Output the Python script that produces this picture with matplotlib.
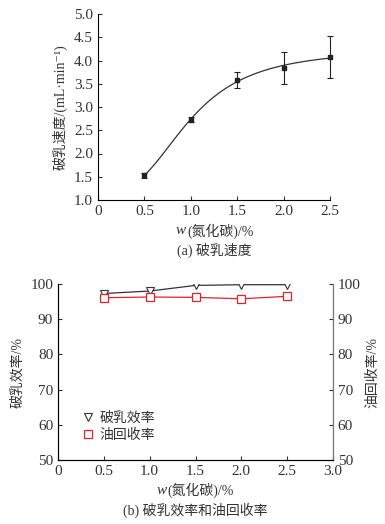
import numpy as np
import matplotlib
matplotlib.use("Agg")
import matplotlib.pyplot as plt
from matplotlib.ticker import FormatStrFormatter

plt.rcParams['font.family'] = ['Liberation Serif', 'Noto Sans CJK SC', 'DejaVu Serif']
plt.rcParams['axes.unicode_minus'] = False

# (a) demulsification speed
dose = [0.5, 1.0, 1.5, 2.0, 2.5]
speed = [1.53, 2.73, 3.58, 3.84, 4.08]
speed_err = [0.05, 0.05, 0.17, 0.35, 0.45]

# (b) efficiencies
eff = [97.3, 98.0, 99.6, 99.8, 99.8]
oil = [96.1, 96.3, 96.2, 95.8, 96.5]

TXT = '#333333'
NUM = 11
CJK = 10

fig = plt.figure(figsize=(3.85, 5.24), dpi=100)


def wlabel(xc, yc):
    # "w(氮化碳)/%" with italic w, centred at figure pixel (xc, yc)
    y = 1 - yc / 524
    t1 = fig.text(0, y, 'w', style='italic', fontsize=NUM, color=TXT, va='center')
    t2 = fig.text(0, y, '(氮化碳)/%', fontsize=CJK, color=TXT, va='center')
    r = fig.canvas.get_renderer()
    w1 = t1.get_window_extent(r).width
    w2 = t2.get_window_extent(r).width
    x0 = xc - (w1 + w2) / 2
    t1.set_x(x0 / 385)
    t2.set_x((x0 + w1 + 1) / 385)


def logistic_fit(x, y):
    # Origin-style logistic y = A2 + (A1-A2)/(1+(x/x0)^p); x0, p by grid search
    x, y = np.asarray(x), np.asarray(y)
    best = None
    for x0 in np.linspace(0.5, 2.5, 101):
        for p in np.linspace(1.0, 6.0, 101):
            s = 1 / (1 + (x / x0) ** p)
            M = np.column_stack([s, 1 - s])
            c, *_ = np.linalg.lstsq(M, y, rcond=None)
            r = np.sum((M @ c - y) ** 2)
            if best is None or r < best[0]:
                best = (r, x0, p, c)
    _, x0, p, (a1, a2) = best
    return lambda t: a2 + (a1 - a2) / (1 + (t / x0) ** p)


# ---- top panel
ax1 = fig.add_axes([98/385, 1-200/524, 232/385, 186/524])
ax1.errorbar(dose, speed, yerr=speed_err, fmt='s', color='#222222', ms=3.5,
             elinewidth=0.8, capsize=2.5, capthick=0.8, clip_on=False, zorder=3)
f = logistic_fit(dose, speed)
xs = np.linspace(dose[0], dose[-1], 100)
ax1.plot(xs, f(xs), color='#333333', lw=0.9)
ax1.set_xlim(0, 2.5)
ax1.set_ylim(1.0, 5.0)
ax1.set_xticks([0, 0.5, 1.0, 1.5, 2.0, 2.5])
ax1.set_xticklabels(['0', '0.5', '1.0', '1.5', '2.0', '2.5'])
ax1.set_yticks(np.arange(1.0, 5.01, 0.5))
ax1.yaxis.set_major_formatter(FormatStrFormatter('%.1f'))
for s in ['top', 'right']:
    ax1.spines[s].set_visible(False)
ax1.tick_params(direction='in', length=3, labelsize=NUM, colors=TXT)
ax1.set_ylabel('破乳速度/(mL·min⁻¹)', fontsize=CJK, color=TXT, labelpad=5)
wlabel(214, 231)
fig.text(214/385, 1 - 250/524, '(a) 破乳速度', ha='center', va='center',
         fontsize=CJK, color=TXT)

# ---- bottom panel
ax2 = fig.add_axes([58/385, 1-460/524, 275/385, 176/524])
ax2.plot(dose, eff, color='#333333', lw=0.9, marker='v', mfc='white', mec='#333333',
         ms=6, mew=0.8, label='破乳效率')
ax3 = ax2.twinx()
ax3.plot(dose, oil, color='#e8202a', lw=0.9, marker='s', mfc='white', mec='#e8202a',
         ms=5.5, mew=0.9, label='油回收率')
for a in (ax2, ax3):
    a.set_ylim(50, 100)
    a.set_xlim(0, 3.0)
    a.set_yticks(range(50, 101, 10))
    a.spines['top'].set_visible(False)
    a.tick_params(direction='in', length=3, labelsize=NUM, colors=TXT)
ax3.spines['right'].set_color('#777777')
ax2.set_xticks([0, 0.5, 1.0, 1.5, 2.0, 2.5, 3.0])
ax2.set_xticklabels(['0', '0.5', '1.0', '1.5', '2.0', '2.5', '3.0'])
ax2.set_ylabel('破乳效率/%', fontsize=CJK, color=TXT, labelpad=4)
ax3.set_ylabel('油回收率/%', fontsize=CJK, color=TXT, labelpad=4)
h1, l1 = ax2.get_legend_handles_labels()
h2, l2 = ax3.get_legend_handles_labels()
leg = ax2.legend(h1 + h2, l1 + l2, loc='lower left', bbox_to_anchor=(0.045, 0.032),
                 frameon=False, fontsize=CJK, handlelength=0.8, handletextpad=0.4,
                 labelspacing=0.3)
for h in leg.legend_handles:
    h.set_linestyle('none')
for t in leg.get_texts():
    t.set_color(TXT)
wlabel(195, 490)
fig.text(195/385, 1 - 510/524, '(b) 破乳效率和油回收率', ha='center',
         va='center', fontsize=CJK, color=TXT)

fig.savefig('out.png', dpi=100)
